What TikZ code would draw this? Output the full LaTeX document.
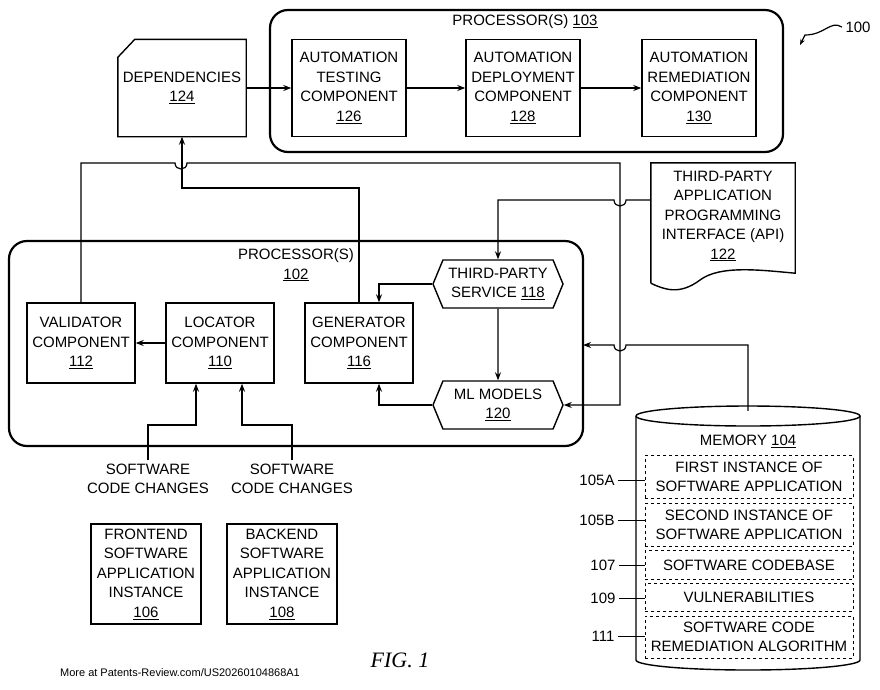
\documentclass[tikz,border=0pt]{standalone}
\usepackage{fontspec}
\setmainfont{Liberation Sans}
\newfontfamily\figfont{Liberation Serif}
\usetikzlibrary{arrows.meta, positioning, shapes.symbols}

\begin{document}
\begin{tikzpicture}[
    x=1pt, y=-1pt,
    font=\fontsize{15}{19.5}\selectfont,
    box/.style = {rectangle, draw, line width=1.4pt, align=center, inner sep=0pt, minimum width=108pt, minimum height=80pt},
    hex/.style = {signal, signal to=west and east, signal pointer angle=135, draw, line width=1.4pt, align=center, inner sep=0pt, minimum width=130pt, minimum height=48pt},
    outer/.style = {rectangle, draw, line width=2.2pt, rounded corners=18pt},
    slot/.style = {rectangle, draw, dashed, line width=1pt, align=center, inner sep=0pt, minimum width=208pt},
    arrow/.style = {-{Stealth[length=8pt,width=6pt]}, line width=1.2pt},
    line/.style = {line width=1.2pt},
    ref/.style = {font=\fontsize{15}{17}\selectfont}
]
\useasboundingbox (0,0) rectangle (880,689);

% Outer processor frames
\draw[outer] (270,10) rectangle (783,152);
\node at (525,22) {PROCESSOR(S) \underline{103}};
\draw[outer] (9,241) rectangle (583,446);
\node[align=center] at (296,265) {PROCESSOR(S)\\\underline{102}};

% Top row
\node[rectangle, minimum width=128pt, minimum height=97pt, inner sep=0pt] (dep) at (182,88) {};
\node[align=center] (deptxt) at (182,88) {DEPENDENCIES\\\underline{124}};
\draw[line width=1.4pt] ([yshift=-18]dep.north west) -- ([xshift=17]dep.north west) -- (dep.north east) -- (dep.south east) -- (dep.south west) -- cycle;
\node[box, minimum width=114pt, minimum height=97pt] (test) at (349,88) {AUTOMATION\\TESTING\\COMPONENT\\\underline{126}};
\node[box, minimum width=114pt, minimum height=97pt] (deploy) at (523,88) {AUTOMATION\\DEPLOYMENT\\COMPONENT\\\underline{128}};
\node[box, minimum width=114pt, minimum height=97pt] (remed) at (699,88) {AUTOMATION\\REMEDIATION\\COMPONENT\\\underline{130}};

\node (ref100) at (858,27) {100};
\draw[line, -{Stealth[length=6pt]}] (ref100.west) .. controls (830,20) and (825,35) .. (805,35) -- (800,45);

% Processor 102 contents
\node[box] (val) at (81,343) {VALIDATOR\\COMPONENT\\\underline{112}};
\node[box] (loc) at (220,343) {LOCATOR\\COMPONENT\\\underline{110}};
\node[box] (gen) at (359,343) {GENERATOR\\COMPONENT\\\underline{116}};
\node[hex] (svc) at (498,284) {THIRD-PARTY\\SERVICE \underline{118}};
\node[hex] (ml) at (498,405) {ML MODELS\\\underline{120}};

% API document
\node[rectangle, minimum width=144pt, minimum height=120pt, inner sep=0pt] (api) at (723,223) {};
\node[align=center] (apitxt) at (723,216) {THIRD-PARTY\\APPLICATION\\PROGRAMMING\\INTERFACE (API)\\\underline{122}};
\draw[line width=1.4pt] (api.south west) -- (api.north west) -- (api.north east) -- ([yshift=10]api.south east)
  .. controls (760,270) and (720,265) .. (700,280) .. controls (680,295) and (665,290) .. (api.south west);

% Memory cylinder
\node[rectangle, minimum width=225pt, minimum height=254pt, inner sep=0pt] (mem) at (748,538) {};
\draw[line width=1.4pt] (636,416) arc[start angle=180, end angle=-180, x radius=112, y radius=10];
\draw[line width=1.4pt] (636,416) -- (636,660) arc[start angle=180, end angle=360, x radius=112, y radius=-10] -- (860,416);
\node at (748,441) {MEMORY \underline{104}};
\node[slot, minimum height=43pt] (m105a) at (749,477) {FIRST INSTANCE OF\\SOFTWARE APPLICATION};
\node[slot, minimum height=43pt] (m105b) at (749,525) {SECOND INSTANCE OF\\SOFTWARE APPLICATION};
\node[slot, minimum height=29pt] (m107) at (749,565) {SOFTWARE CODEBASE};
\node[slot, minimum height=28pt] (m109) at (749,597) {VULNERABILITIES};
\node[slot, minimum height=42pt] (m111) at (749,637) {SOFTWARE CODE\\REMEDIATION ALGORITHM};
\node[ref] (r105a) at (597,480) {105A};
\node[ref] (r105b) at (597,520) {105B};
\node[ref] (r107) at (603,565) {107};
\node[ref] (r109) at (603,598) {109};
\node[ref] (r111) at (603,636) {111};
\foreach \r/\m in {r105a/m105a, r105b/m105b, r107/m107, r109/m109, r111/m111}
  \draw[line width=0.8pt] (\r.east) -- (\r.east -| \m.west);

% Instances
\node[box, minimum width=110pt, minimum height=100pt] (front) at (146,574) {FRONTEND\\SOFTWARE\\APPLICATION\\INSTANCE\\\underline{106}};
\node[box, minimum width=110pt, minimum height=100pt] (back) at (282,574) {BACKEND\\SOFTWARE\\APPLICATION\\INSTANCE\\\underline{108}};
\node[align=center] (chg1) at (148,479) {SOFTWARE\\CODE CHANGES};
\node[align=center] (chg2) at (292,479) {SOFTWARE\\CODE CHANGES};

\node[font=\figfont\itshape\fontsize{22}{24}\selectfont] (fig) at (400,660) {FIG. 1};
\node[font=\fontsize{11}{13}\selectfont] (more) at (180,673) {More at Patents-Review.com/US20260104868A1};

% Connectors
\draw[arrow] (dep.east) -- (dep.east -| test.west);
\draw[arrow] (test) -- (deploy);
\draw[arrow] (deploy) -- (remed);
\draw[arrow] (loc.west) -- (val.east);
\draw[arrow] (val.north) -- (81,163) -- (175,163) .. controls (175,171) and (187,171) .. (187,163)
  -- (620,163) -- (620,405) -- (ml.east);
\draw[arrow] (gen.north) -- (359,188) -| (dep.south);
\draw[arrow] (api.west |- 0,200) -- (626,200) .. controls (626,208) and (614,208) .. (614,200) -| (svc.north);
\draw[arrow] (svc.west) -| ([xshift=20]gen.north);
\draw[arrow] (svc) -- (ml);
\draw[arrow] (ml.west) -| ([xshift=20]gen.south);
\draw[arrow] (mem.north) -- (748,345) -- (626,345) .. controls (626,353) and (614,353) .. (614,345) -- (583,345);
\draw[arrow] (chg1.north) -- (148,425) -| ([xshift=-24]loc.south);
\draw[arrow] (chg2.north) -- (292,425) -| ([xshift=22]loc.south);
\end{tikzpicture}
\end{document}
